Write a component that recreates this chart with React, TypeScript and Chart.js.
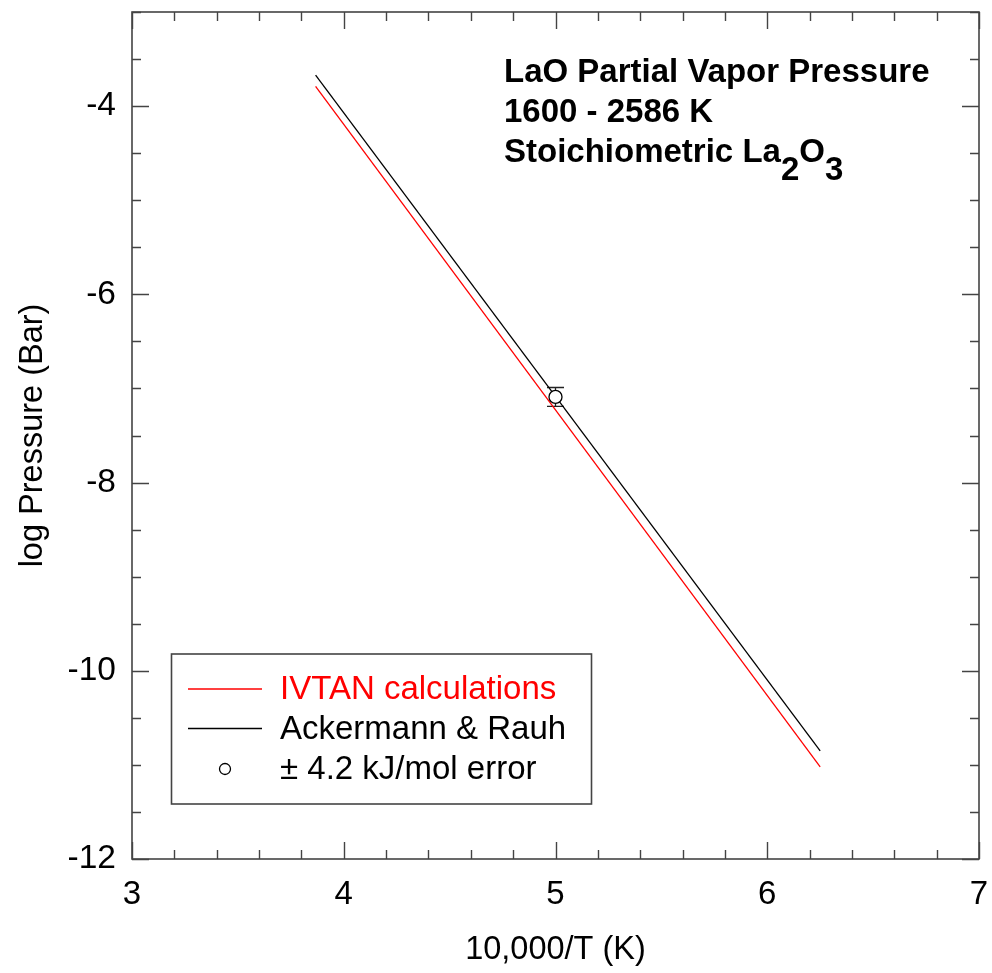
import React, { useEffect, useRef } from "react";
import { Chart, registerables } from "chart.js";
Chart.register(...registerables);

// ---- data ----
const lineX = [3.867, 6.25];
const ivtanY = [-3.79, -11.02];
const ackermannY = [-3.67, -10.85];
const pointX = [5.0];
const pointY = [-7.09];
const pointErr = [0.1];

const xTicks = [3, 4, 5, 6, 7];
const yTicks = [-12, -10, -8, -6, -4];
const xMinorStep = 0.2;
const yMinorStep = 0.5;
const X_MIN = 3, X_MAX = 7, Y_MIN = -12, Y_MAX = -3;

const seriesLabels = ["IVTAN calculations", "Ackermann & Rauh", "\u00B1 4.2 kJ/mol error"];
const titleLine1 = "LaO Partial Vapor Pressure";
const titleLine2 = "1600 - 2586 K";
const titleLine3: [string, boolean][] = [
  ["Stoichiometric La", false],
  ["2", true],
  ["O", false],
  ["3", true],
];
const xTitle = "10,000/T (K)";
const yTitle = "log Pressure (Bar)";

const FONT = "'Liberation Sans', Arial, Helvetica, sans-serif";
const FRAME = "#444444";

const decorPlugin = {
  id: "decor",
  beforeDatasetsDraw(chart: any) {
    const ctx = chart.ctx;
    const xs = chart.scales.x, ys = chart.scales.y;
    ctx.save();
    ctx.strokeStyle = "#222";
    ctx.lineWidth = 1.3;
    for (let i = 0; i < pointX.length; i++) {
      const px = xs.getPixelForValue(pointX[i]);
      const top = ys.getPixelForValue(pointY[i] + pointErr[i]);
      const bot = ys.getPixelForValue(pointY[i] - pointErr[i]);
      ctx.beginPath();
      ctx.moveTo(px, top);
      ctx.lineTo(px, bot);
      ctx.moveTo(px - 8.5, top);
      ctx.lineTo(px + 8.5, top);
      ctx.moveTo(px - 8.5, bot);
      ctx.lineTo(px + 8.5, bot);
      ctx.stroke();
    }
    ctx.restore();
  },
  afterDraw(chart: any) {
    const ctx = chart.ctx;
    const { left, right, top, bottom } = chart.chartArea;
    const xs = chart.scales.x, ys = chart.scales.y;
    ctx.save();
    // frame
    ctx.strokeStyle = FRAME;
    ctx.lineWidth = 1.6;
    ctx.strokeRect(left, top, right - left, bottom - top);
    // ticks
    ctx.lineWidth = 1.4;
    ctx.beginPath();
    const major = 17, minor = 9;
    for (let v = X_MIN; v <= X_MAX + 1e-9; v += xMinorStep) {
      const isMajor = xTicks.some((t) => Math.abs(t - v) < 1e-6);
      const len = isMajor ? major : minor;
      const px = Math.round(xs.getPixelForValue(v)) + 0.5;
      ctx.moveTo(px, bottom);
      ctx.lineTo(px, bottom - len);
      ctx.moveTo(px, top);
      ctx.lineTo(px, top + len);
    }
    for (let v = Y_MIN; v <= Y_MAX + 1e-9; v += yMinorStep) {
      const isMajor = yTicks.some((t) => Math.abs(t - v) < 1e-6);
      const len = isMajor ? major : minor;
      const py = Math.round(ys.getPixelForValue(v)) + 0.5;
      ctx.moveTo(left, py);
      ctx.lineTo(left + len, py);
      ctx.moveTo(right, py);
      ctx.lineTo(right - len, py);
    }
    ctx.stroke();

    // title text
    ctx.fillStyle = "#000";
    ctx.textAlign = "left";
    ctx.textBaseline = "alphabetic";
    ctx.font = `bold 33px ${FONT}`;
    const tx = 504;
    ctx.fillText(titleLine1, tx, 81.5);
    ctx.fillText(titleLine2, tx, 121.5);
    let cx = tx;
    for (const [txt, sub] of titleLine3) {
      ctx.font = `bold 33px ${FONT}`;
      ctx.fillText(txt, cx, sub ? 180 : 161.5);
      cx += ctx.measureText(txt).width;
    }

    // legend
    const lx0 = 171.5, ly0 = 654, lx1 = 591.5, ly1 = 804;
    ctx.fillStyle = "#fff";
    ctx.fillRect(lx0, ly0, lx1 - lx0, ly1 - ly0);
    ctx.strokeStyle = FRAME;
    ctx.lineWidth = 1.6;
    ctx.strokeRect(lx0, ly0, lx1 - lx0, ly1 - ly0);
    const rows = [689, 728.5, 769];
    const colors = ["#ff0000", "#000000", "#000000"];
    ctx.font = `33px ${FONT}`;
    ctx.textBaseline = "middle";
    for (let i = 0; i < 3; i++) {
      ctx.strokeStyle = colors[i];
      ctx.lineWidth = 1.3;
      if (i < 2) {
        ctx.beginPath();
        ctx.moveTo(188, rows[i]);
        ctx.lineTo(262, rows[i]);
        ctx.stroke();
      } else {
        ctx.beginPath();
        ctx.arc(225, rows[i], 5.5, 0, Math.PI * 2);
        ctx.fillStyle = "#fff";
        ctx.fill();
        ctx.strokeStyle = "#000";
        ctx.stroke();
      }
      ctx.fillStyle = colors[i];
      ctx.fillText(seriesLabels[i], 280, rows[i] + 1);
    }
    ctx.restore();
  },
};

const zeroPad = (s: any) => {
  s.paddingTop = 0;
  s.paddingBottom = 0;
  s.paddingLeft = 0;
  s.paddingRight = 0;
};

export default function App() {
  const ref = useRef<HTMLCanvasElement | null>(null);
  useEffect(() => {
    if (!ref.current) return;
    Chart.defaults.font.family = FONT;
    const chart = new Chart(ref.current, {
      type: "scatter",
      data: {
        datasets: [
          {
            label: seriesLabels[2],
            data: pointX.map((x, i) => ({ x, y: pointY[i] })),
            showLine: false,
            pointRadius: 6.5,
            pointBackgroundColor: "#ffffff",
            pointBorderColor: "#000000",
            pointBorderWidth: 1.3,
          },
          {
            label: seriesLabels[0],
            data: lineX.map((x, i) => ({ x, y: ivtanY[i] })),
            showLine: true,
            borderColor: "#ff0000",
            borderWidth: 1.3,
            pointRadius: 0,
          },
          {
            label: seriesLabels[1],
            data: lineX.map((x, i) => ({ x, y: ackermannY[i] })),
            showLine: true,
            borderColor: "#000000",
            borderWidth: 1.3,
            pointRadius: 0,
          },
        ],
      },
      plugins: [decorPlugin],
      options: {
        animation: false,
        responsive: true,
        maintainAspectRatio: false,
        layout: { padding: { top: 12, right: 13, left: 0, bottom: 0 } },
        plugins: { legend: { display: false }, tooltip: { enabled: false } },
        scales: {
          x: {
            type: "linear",
            min: X_MIN,
            max: X_MAX,
            grid: { display: false, drawTicks: false },
            border: { display: false },
            ticks: {
              font: { size: 33 },
              color: "#000",
              padding: 16,
              maxRotation: 0,
              autoSkip: false,
              callback: (v: any) => String(v),
            },
            afterBuildTicks: (s: any) => {
              s.ticks = xTicks.map((v) => ({ value: v }));
            },
            afterFit: (s: any) => {
              s.height = 114;
              zeroPad(s);
            },
            title: {
              display: true,
              text: xTitle,
              font: { size: 32.5 },
              color: "#000",
              padding: { top: 0, bottom: 3 },
            },
          },
          y: {
            type: "linear",
            min: Y_MIN,
            max: Y_MAX,
            grid: { display: false, drawTicks: false },
            border: { display: false },
            ticks: {
              font: { size: 33.5 },
              color: "#000",
              padding: 16,
              autoSkip: false,
              callback: (v: any) => String(v),
            },
            afterBuildTicks: (s: any) => {
              s.ticks = yTicks.map((v) => ({ value: v }));
            },
            afterFit: (s: any) => {
              s.width = 132;
              zeroPad(s);
            },
            title: {
              display: true,
              text: yTitle,
              font: { size: 32.5 },
              color: "#000",
              padding: { top: 14, bottom: 0 },
            },
          },
        },
      },
    } as any);
    return () => chart.destroy();
  }, []);
  return (
    <div style={{ position: "absolute", left: 0, top: 0, width: 992, height: 973, background: "#fff" }}>
      <canvas ref={ref} />
    </div>
  );
}
